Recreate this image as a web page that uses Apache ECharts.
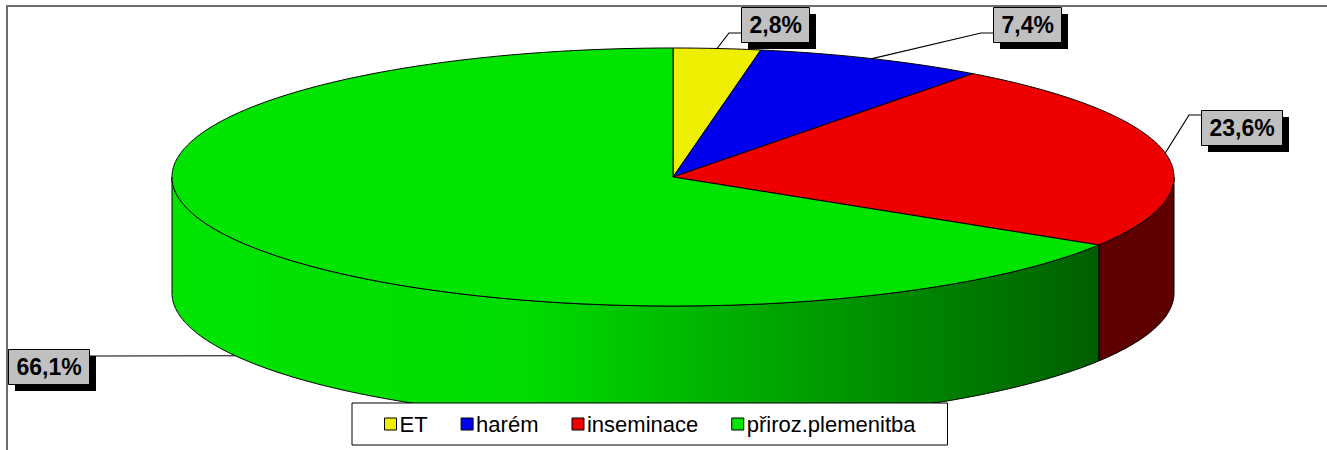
<!DOCTYPE html>
<html><head><meta charset="utf-8">
<script src="https://cdn.jsdelivr.net/npm/echarts@6/dist/echarts.min.js"></script>
<style>html,body{margin:0;padding:0;background:#fff}#c{width:1327px;height:450px}</style>
</head><body><div id="c"></div>
<script>
// ---- data ----
const categories = ['ET', 'harém', 'inseminace', 'přiroz.plemenitba'];
const values = [2.8, 7.4, 23.6, 66.1];
const labelTexts = ['2,8%', '7,4%', '23,6%', '66,1%'];

// ---- styles / layout ----
const topColors = ['#EEEE00', '#0000EE', '#EE0000', '#00E400'];
const sideColors = [
  '#5E5E00', '#00005E', '#5E0000',
  {type: 'linear', x: 172, y: 0, x2: 1100, y2: 0, global: true,
   colorStops: [{offset: 0, color: '#00E400'}, {offset: 0.38, color: '#00DC00'}, {offset: 1, color: '#005E00'}]}
];
const CX = 673, CY = 177, RX = 501, RY = 129, DEPTH = 116;
const labelBox = [[741, 7], [993, 7], [1201, 110], [8, 349]];
const labelAttach = [[741, 33], [993, 33], [1201, 115], [89, 356]];
const FONT = 'bold 23px "Liberation Sans", Arial, sans-serif';
const PAD = [5, 8, 6, 8], LINE_H = 24, SHADOW = 7;

const total = values.reduce((a, b) => a + b, 0);
const cum = [];
values.reduce((acc, v, i) => { cum[i] = acc; return acc + v; }, 0);

const measureCtx = document.createElement('canvas').getContext('2d');
measureCtx.font = FONT;
function textW(t) { return measureCtx.measureText(t).width; }

function pt(t, dy) { return [CX + RX * Math.sin(t), CY - RY * Math.cos(t) + (dy || 0)]; }
function arc(t0, t1, dy) {
  const n = Math.max(2, Math.ceil((t1 - t0) / 0.01));
  const out = [];
  for (let k = 0; k <= n; k++) out.push(pt(t0 + (t1 - t0) * k / n, dy));
  return out;
}

function makeRender(i) {
  return function (params, api) {
    const v = api.value(0);
    const a0 = cum[i] / total * Math.PI * 2;
    const a1 = a0 + v / total * Math.PI * 2;
    const children = [];
    const s0 = Math.max(a0, Math.PI / 2), s1 = Math.min(a1, Math.PI * 1.5);
    if (s1 > s0) {
      const pts = arc(s0, s1, 0).concat(arc(s0, s1, DEPTH).reverse());
      children.push({type: 'polygon', shape: {points: pts}, z2: 1,
        style: {fill: sideColors[i], stroke: '#000', lineWidth: 1, lineJoin: 'round'}});
    }
    const topPts = [[CX, CY]].concat(arc(a0, a1, 0));
    children.push({type: 'polygon', shape: {points: topPts}, z2: 2,
      style: {fill: topColors[i], stroke: '#000', lineWidth: 1, lineJoin: 'round'}});
    // label + leader
    const mid = (a0 + a1) / 2;
    const anchor = Math.cos(mid) < 0 ? pt(mid, DEPTH) : pt(mid, 0);
    const att = labelAttach[i];
    const elbow = [att[0] > anchor[0] ? att[0] - 12 : att[0] + 12, att[1]];
    children.push({type: 'polyline', shape: {points: [anchor, elbow, att]}, z2: 8,
      style: {fill: null, stroke: '#000', lineWidth: 1.2}});
    const b = labelBox[i];
    const w = Math.round(textW(labelTexts[i])) + PAD[1] + PAD[3];
    const h = LINE_H + PAD[0] + PAD[2];
    children.push({type: 'rect', z2: 9, shape: {x: b[0] + SHADOW, y: b[1] + SHADOW, width: w, height: h},
      style: {fill: '#000'}});
    children.push({type: 'rect', z2: 10, shape: {x: b[0] + 0.5, y: b[1] + 0.5, width: w, height: h},
      style: {fill: '#C0C0C0', stroke: '#000', lineWidth: 1}});
    children.push({type: 'text', x: b[0] + PAD[3] + 0.5, y: b[1] + PAD[0] + 0.5, z2: 11,
      style: {text: labelTexts[i], font: FONT, fill: '#000', lineHeight: LINE_H,
        textAlign: 'left', textVerticalAlign: 'top', align: 'left', verticalAlign: 'top'}});
    return {type: 'group', children};
  };
}

const chart = echarts.init(document.getElementById('c'), null, {renderer: 'svg'});
chart.setOption({
  animation: false,
  graphic: [{type: 'rect', z: 0, shape: {x: 7, y: 6, width: 1400, height: 500},
    style: {fill: 'none', stroke: '#6e6e6e', lineWidth: 2}}],
  legend: {
    data: categories,
    left: 352, top: 403,
    padding: [10, 32, 10, 32],
    itemGap: 33, itemWidth: 12, itemHeight: 12,
    icon: 'rect',
    borderColor: '#000', borderWidth: 1, backgroundColor: '#fff',
    itemStyle: {borderColor: '#000', borderWidth: 1},
    textStyle: {fontFamily: '"Liberation Sans", Arial, sans-serif', fontSize: 22, color: '#000', padding: [0, 0, 0, -2]},
    selectedMode: false
  },
  series: categories.map((name, i) => ({
    type: 'custom', name, coordinateSystem: 'none',
    itemStyle: {color: topColors[i]},
    data: [values[i]],
    renderItem: makeRender(i)
  }))
});
</script></body></html>
